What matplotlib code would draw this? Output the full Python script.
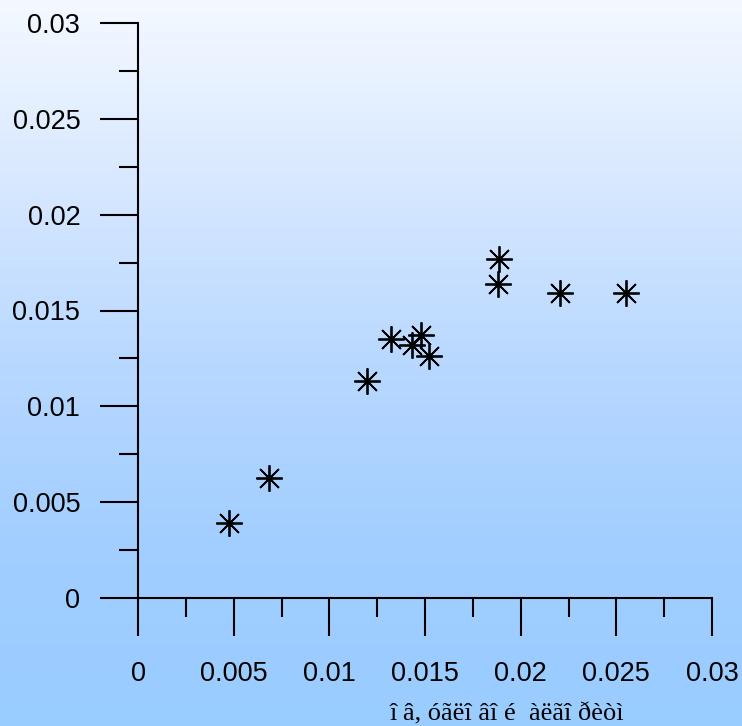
import numpy as np
import matplotlib
matplotlib.use('Agg')
import matplotlib.pyplot as plt
from matplotlib.colors import LinearSegmentedColormap

# data
x_vals = [0.00477, 0.00685, 0.01195, 0.01321, 0.01434, 0.01477, 0.01519,
          0.01889, 0.01882, 0.02207, 0.02552]
y_vals = [0.00393, 0.00626, 0.01134, 0.01353, 0.01320, 0.01374, 0.01263,
          0.01767, 0.01637, 0.01593, 0.01593]
x_ticks = [0, 0.005, 0.01, 0.015, 0.02, 0.025, 0.03]
x_ticklabels = ['0', '0.005', '0.01', '0.015', '0.02', '0.025', '0.03']
y_ticks = [0, 0.005, 0.01, 0.015, 0.02, 0.025, 0.03]
y_ticklabels = ['0', '0.005', '0.01', '0.015', '0.02', '0.025', '0.03']
x_label = 'î â, óãëî âî é  àëãî ðèòì'

plt.rcParams['font.family'] = ['Liberation Sans', 'DejaVu Sans']

fig = plt.figure(figsize=(7.42, 7.26), dpi=100)

# gradient background
bg = fig.add_axes([0, 0, 1, 1], zorder=0)
cmap = LinearSegmentedColormap.from_list(
    'bg', [(0.0, '#f4f9ff'), (0.25, '#d8e8ff'), (0.5, '#b8d8ff'),
           (0.75, '#a2ceff'), (1.0, '#99ccff')])
grad = np.linspace(0, 1, 256).reshape(-1, 1)
bg.imshow(grad, aspect='auto', cmap=cmap, extent=[0, 1, 0, 1], origin='upper')
bg.axis('off')

ax = fig.add_axes([138 / 742, 1 - 598 / 726, 574 / 742, 575 / 726], zorder=1)
ax.patch.set_alpha(0)

ax.plot(x_vals, y_vals, linestyle='none', marker=(8, 2, 0), markersize=19,
        markeredgewidth=1.3, color='black', clip_on=False)

ax.set_xlim(0, 0.03)
ax.set_ylim(0, 0.03)
ax.set_xticks(x_ticks)
ax.set_xticklabels(x_ticklabels)
ax.set_yticks(y_ticks)
ax.set_yticklabels(y_ticklabels)
ax.set_xticks(np.arange(0.0025, 0.03, 0.005), minor=True)
ax.set_yticks(np.arange(0.0025, 0.03, 0.005), minor=True)

for s in ['top', 'right']:
    ax.spines[s].set_visible(False)
for s in ['left', 'bottom']:
    ax.spines[s].set_linewidth(1.5)

ax.tick_params(which='major', direction='out', length=27.5, width=1.5,
               labelsize=19.5, pad=14)
ax.tick_params(which='minor', direction='out', length=13.7, width=1.5)
ax.tick_params(axis='x', which='major', pad=18)

fig.text(390 / 742, 1 - 720 / 726, x_label, family='Liberation Serif',
         fontsize=19, ha='left', va='baseline')

fig.savefig('out.png', dpi=100)
